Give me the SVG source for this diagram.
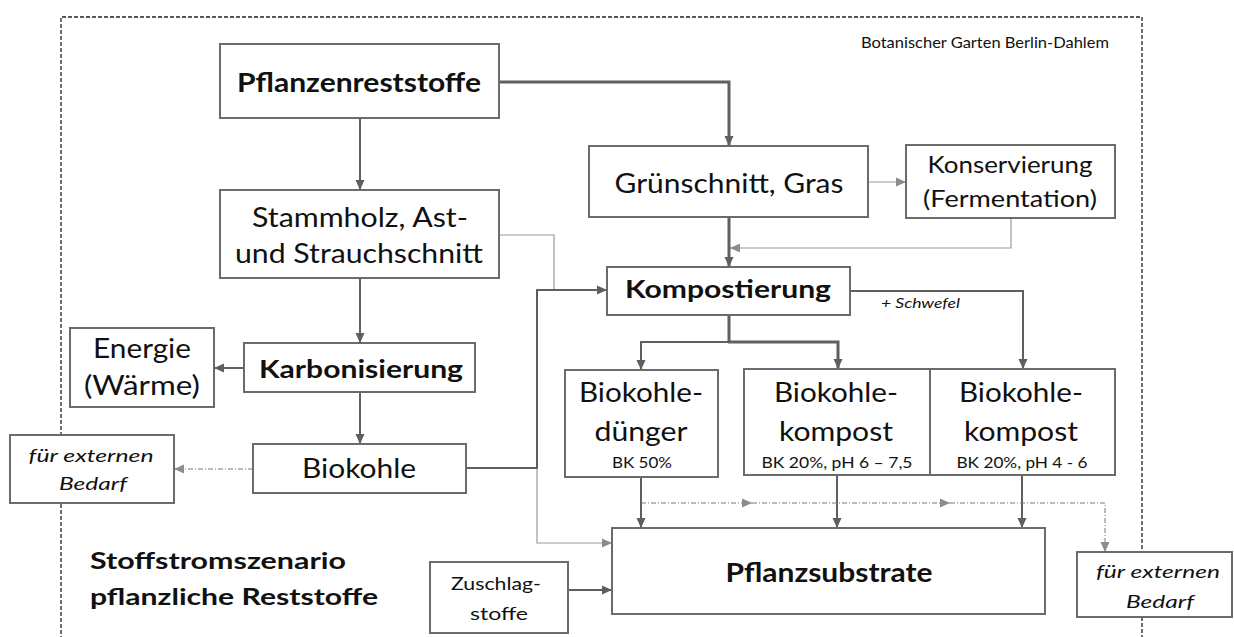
<svg xmlns="http://www.w3.org/2000/svg" width="1234" height="637" viewBox="0 0 1234 637">
<defs>
<marker id="ad" markerUnits="userSpaceOnUse" markerWidth="11" markerHeight="10" refX="10" refY="5" orient="auto"><path d="M0,0.5 L10,5 L0,9.5 z" fill="#5f5f5f"/></marker>
<marker id="al" markerUnits="userSpaceOnUse" markerWidth="11" markerHeight="10" refX="10" refY="5" orient="auto"><path d="M0,0.5 L10,5 L0,9.5 z" fill="#8c8c8c"/></marker>
<style>
.box{fill:#fff;stroke:#6b6b6b;stroke-width:2}
.t{font-family:Lato,"Open Sans","Liberation Sans",sans-serif;fill:#111;text-anchor:middle}
.b{font-weight:bold}
.i{font-style:italic}
.c{fill:none;stroke:#5f5f5f;stroke-width:2}
.thick{stroke-width:3}
.thin{fill:none;stroke:#9a9a9a;stroke-width:1.2}
.dd{fill:none;stroke:#7a7a7a;stroke-width:1;stroke-dasharray:5,2,1,2}
</style>
</defs>
<rect width="1234" height="637" fill="#fff"/>
<path d="M61,640 V17 H1142 V640" fill="none" stroke="#222" stroke-width="1.3" stroke-dasharray="4,2"/>
<text class="t" x="861" y="48" font-size="15" text-anchor="start" style="text-anchor:start" textLength="248" lengthAdjust="spacingAndGlyphs" fill="#333">Botanischer Garten Berlin-Dahlem</text>
<g id="connectors">
<path class="c thick" d="M499,82 H729 V146" marker-end="url(#ad)"/>
<path class="c" d="M360,118 V190" marker-end="url(#ad)"/>
<path class="c" d="M360,278 V343" marker-end="url(#ad)"/>
<path class="c" d="M244,368 H214" stroke-width="2.5" marker-end="url(#ad)"/>
<path class="c" d="M360,392 V444" marker-end="url(#ad)"/>
<path class="thin" d="M500,235 H554 V290"/>
<path class="thin" d="M537,468 V543 H612" marker-end="url(#al)"/>
<path class="c" d="M466,468 H537 V290 H607" stroke-width="2.6" marker-end="url(#ad)"/>
<path class="dd" d="M253,469 H174" marker-end="url(#al)"/>
<path class="thin" d="M868,182 H906" marker-end="url(#al)"/>
<path class="thin" d="M1011,218 V248 H730" marker-end="url(#al)"/>
<path class="c thick" d="M729,217 V267" marker-end="url(#ad)"/>
<path class="c thick" d="M729,315 V342"/>
<path class="c" d="M729,342 H641 V370" marker-end="url(#ad)"/>
<path class="c thick" d="M728,342 H838 V369" marker-end="url(#ad)"/>
<path class="c" d="M850,291 H1023 V369" marker-end="url(#ad)"/>
<path class="c" d="M641,477 V528" marker-end="url(#ad)"/>
<path class="c" d="M837,475 V528" marker-end="url(#ad)"/>
<path class="c" d="M1022,475 V528" marker-end="url(#ad)"/>
<path class="dd" d="M641,503 H752" marker-end="url(#al)"/>
<path class="dd" d="M752,503 H950" marker-end="url(#al)"/>
<path class="dd" d="M950,503 H1105 V552" marker-end="url(#al)"/>
<path class="c" d="M568,590 H612" stroke-width="2.5" marker-end="url(#ad)"/>
<text class="t i" x="881" y="308" font-size="13" style="text-anchor:start" textLength="79" lengthAdjust="spacingAndGlyphs">+ Schwefel</text>
</g>
<g id="pflanzenreststoffe"><rect class="box" x="220" y="44" width="279" height="74"/>
<text class="t b" x="359" y="92" font-size="27" textLength="244" lengthAdjust="spacingAndGlyphs">Pflanzenreststoffe</text></g>
<g id="stammholz"><rect class="box" x="220" y="190" width="279" height="88"/>
<text class="t" x="360" y="227" font-size="27" textLength="216" lengthAdjust="spacingAndGlyphs">Stammholz, Ast-</text>
<text class="t" x="359" y="263" font-size="27" textLength="248" lengthAdjust="spacingAndGlyphs">und Strauchschnitt</text></g>
<g id="gruenschnitt"><rect class="box" x="589" y="146" width="279" height="71"/>
<text class="t" x="729" y="193" font-size="27" textLength="229" lengthAdjust="spacingAndGlyphs">Grünschnitt, Gras</text></g>
<g id="konservierung"><rect class="box" x="906" y="145" width="209" height="73"/>
<text class="t" x="1010" y="173" font-size="23" textLength="165" lengthAdjust="spacingAndGlyphs">Konservierung</text>
<text class="t" x="1010" y="207" font-size="23" textLength="174" lengthAdjust="spacingAndGlyphs">(Fermentation)</text></g>
<g id="kompostierung"><rect class="box" x="607" y="267" width="243" height="48"/>
<text class="t b" x="728" y="298" font-size="24" textLength="206" lengthAdjust="spacingAndGlyphs">Kompostierung</text></g>
<g id="energie"><rect class="box" x="70" y="328" width="144" height="79"/>
<text class="t" x="142" y="358" font-size="26" textLength="98" lengthAdjust="spacingAndGlyphs">Energie</text>
<text class="t" x="142" y="395" font-size="26" textLength="116" lengthAdjust="spacingAndGlyphs">(Wärme)</text></g>
<g id="karbonisierung"><rect class="box" x="244" y="343" width="231" height="49"/>
<text class="t b" x="361" y="378" font-size="24" textLength="204" lengthAdjust="spacingAndGlyphs">Karbonisierung</text></g>
<g id="biokohle"><rect class="box" x="253" y="444" width="213" height="49"/>
<text class="t" x="359" y="478" font-size="26" textLength="114" lengthAdjust="spacingAndGlyphs">Biokohle</text></g>
<g id="extern-links"><rect class="box" x="10" y="435" width="164" height="68"/>
<text class="t i" x="91" y="462" font-size="18" textLength="125" lengthAdjust="spacingAndGlyphs">für externen</text>
<text class="t i" x="93" y="490" font-size="18" textLength="68" lengthAdjust="spacingAndGlyphs">Bedarf</text></g>
<g id="biokohleduenger"><rect class="box" x="565" y="370" width="153" height="107"/>
<text class="t" x="641" y="402" font-size="26" textLength="124" lengthAdjust="spacingAndGlyphs">Biokohle-</text>
<text class="t" x="641" y="441" font-size="26" textLength="93" lengthAdjust="spacingAndGlyphs">dünger</text>
<text class="t" x="642" y="468" font-size="15" textLength="60" lengthAdjust="spacingAndGlyphs">BK 50%</text></g>
<g id="biokohlekompost1"><rect class="box" x="744" y="369" width="186" height="106"/>
<text class="t" x="836" y="402" font-size="26" textLength="124" lengthAdjust="spacingAndGlyphs">Biokohle-</text>
<text class="t" x="836" y="441" font-size="26" textLength="114" lengthAdjust="spacingAndGlyphs">kompost</text>
<text class="t" x="837" y="468" font-size="15" textLength="151" lengthAdjust="spacingAndGlyphs">BK 20%, pH 6 – 7,5</text></g>
<g id="biokohlekompost2"><rect class="box" x="930" y="369" width="185" height="106"/>
<text class="t" x="1021" y="402" font-size="26" textLength="124" lengthAdjust="spacingAndGlyphs">Biokohle-</text>
<text class="t" x="1021" y="441" font-size="26" textLength="114" lengthAdjust="spacingAndGlyphs">kompost</text>
<text class="t" x="1022" y="468" font-size="15" textLength="131" lengthAdjust="spacingAndGlyphs">BK 20%, pH 4 - 6</text></g>
<g id="pflanzsubstrate"><rect class="box" x="612" y="528" width="433" height="86"/>
<text class="t b" x="829" y="582" font-size="27" textLength="207" lengthAdjust="spacingAndGlyphs">Pflanzsubstrate</text></g>
<g id="zuschlagstoffe"><rect class="box" x="430" y="562" width="138" height="71"/>
<text class="t" x="496" y="590" font-size="18" textLength="90" lengthAdjust="spacingAndGlyphs">Zuschlag-</text>
<text class="t" x="499" y="620" font-size="18" textLength="58" lengthAdjust="spacingAndGlyphs">stoffe</text></g>
<g id="extern-rechts"><rect class="box" x="1077" y="552" width="155" height="65"/>
<text class="t i" x="1158" y="578" font-size="18" textLength="124" lengthAdjust="spacingAndGlyphs">für externen</text>
<text class="t i" x="1160" y="608" font-size="18" textLength="68" lengthAdjust="spacingAndGlyphs">Bedarf</text></g>
<g id="titel">
<text class="t b" x="90" y="569" font-size="23" style="text-anchor:start" textLength="256" lengthAdjust="spacingAndGlyphs">Stoffstromszenario</text>
<text class="t b" x="90" y="605" font-size="23" style="text-anchor:start" textLength="288" lengthAdjust="spacingAndGlyphs">pflanzliche Reststoffe</text>
</g>
</svg>
